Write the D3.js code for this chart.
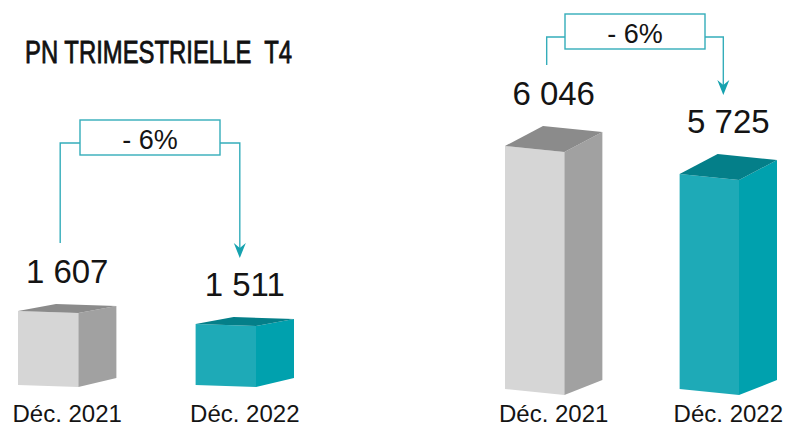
<!DOCTYPE html>
<html>
<head>
<meta charset="utf-8">
<script src="https://cdn.jsdelivr.net/npm/d3@7"></script>
<style>
	body { margin: 0; background: #fff; }
	text { font-family: 'Liberation Sans', Arial, sans-serif; fill: #141414; }
</style>
</head>
<body>
<div id="vis"></div>
<script>

	var title = 'PN TRIMESTRIELLE\u00a0 T4';
	var categories = ['Déc. 2021', 'Déc. 2022'];
	var valuesQuarter = [1607, 1511];   // left panel
	var valuesYear = [6046, 5725];      // right panel
	var changeLabels = ['- 6%', '- 6%'];

	var colors = {
		grey: { front: '#d6d6d6', side: '#a1a1a1', top: '#8b8b8b' },
		teal: { front: '#1eaab7', side: '#00a1ae', top: '#047f89' },
		line: '#34adba',
		arrow: '#16a2af'
	};
	var barColors = [colors.grey, colors.teal];

	var W = 785, H = 428;
	var fmt = d3.formatLocale({ decimal: ',', thousands: '\u00a0', grouping: [3], currency: ['', ''] }).format(',d');

	var svg = d3.select('#vis').append('svg')
		.attr('width', W)
		.attr('height', H);

	svg.append('text')
		.attr('x', 25)
		.attr('y', 63)
		.attr('font-size', 31)
		.attr('textLength', 267)
		.attr('lengthAdjust', 'spacingAndGlyphs')
		.style('font-family', "'Liberation Sans Narrow', 'Liberation Sans', sans-serif")
		.style('fill', '#111')
		.style('stroke', '#111')
		.style('stroke-width', 0.8)
		.text(title);

	// panel layouts: x range, baseline, value floor, 3d depth
	var panels = [
		{ values: valuesQuarter, xr: [18, 256], base: 385, floor: 1061, top: 311,
			dx: 38, dyT: 7, dyB: 9, s: 2, boxY: 120, change: changeLabels[0] },
		{ values: valuesYear, xr: [505, 739], base: 389, floor: 3260, top: 146,
			dx: 38, dyT: 20, dyB: 15, s: 6, boxY: 14, change: changeLabels[1] }
	];

	function pts(a) {
		return a.map(function (p) { return p.join(','); }).join(' ');
	}

	panels.forEach(function (p) {
		var g = svg.append('g');
		var x = d3.scaleBand().domain(categories).range(p.xr).paddingInner(0.66).paddingOuter(0);
		var y = d3.scaleLinear().domain([p.floor, d3.max(p.values)]).range([p.base, p.top]);
		var w = x.bandwidth();
		var centers = [];
		var labelY = [];

		categories.forEach(function (c, i) {
			var x0 = x(c);
			var yT = y(p.values[i]);
			var yB = p.base;
			var col = barColors[i];
			var cx = x0 + (w + p.dx) / 2;
			centers.push(cx);

			g.append('polygon')
				.attr('points', pts([[x0, yT], [x0 + w, yT + p.s], [x0 + w, yB + p.s], [x0, yB]]))
				.attr('fill', col.front);
			g.append('polygon')
				.attr('points', pts([[x0 + w, yT + p.s], [x0 + w + p.dx, yT + p.s - p.dyT],
					[x0 + w + p.dx, yB + p.s - p.dyB], [x0 + w, yB + p.s]]))
				.attr('fill', col.side);
			g.append('polygon')
				.attr('points', pts([[x0, yT], [x0 + p.dx, yT - p.dyT], [x0 + w + p.dx, yT + p.s - p.dyT], [x0 + w, yT + p.s]]))
				.attr('fill', col.top);

			var ly = yT - p.dyT - 21;
			labelY.push(ly);
			g.append('text')
				.attr('x', cx)
				.attr('y', ly)
				.attr('text-anchor', 'middle')
				.attr('font-size', 33)
				.text(fmt(p.values[i]));

			g.append('text')
				.attr('x', cx)
				.attr('y', 422)
				.attr('text-anchor', 'middle')
				.attr('font-size', 24)
				.text(c);
		});

		// change bracket
		var lx = centers[0] - 7, rx = centers[1] - 5;
		var mid = (lx + rx) / 2;
		var bw = 140, bh = 35;
		var ly0 = p.boxY + 23;
		var tipY = labelY[1] - 38;
		g.append('path')
			.attr('d', 'M' + lx + ',' + (labelY[0] - 40) + 'V' + ly0 + 'H' + (mid - bw / 2) +
				'M' + (mid + bw / 2) + ',' + ly0 + 'H' + rx + 'V' + (tipY - 6))
			.attr('fill', 'none')
			.attr('stroke', colors.line)
			.attr('stroke-width', 1.4);
		g.append('rect')
			.attr('x', mid - bw / 2)
			.attr('y', p.boxY)
			.attr('width', bw)
			.attr('height', bh)
			.attr('fill', '#fff')
			.attr('stroke', colors.line)
			.attr('stroke-width', 1.4);
		g.append('polygon')
			.attr('points', pts([[rx, tipY], [rx - 6, tipY - 15], [rx, tipY - 10], [rx + 6, tipY - 15]]))
			.attr('fill', colors.arrow);
		g.append('text')
			.attr('x', mid)
			.attr('y', p.boxY + 29)
			.attr('text-anchor', 'middle')
			.attr('font-size', 27)
			.text(p.change);
	});

</script>
</body>
</html>
